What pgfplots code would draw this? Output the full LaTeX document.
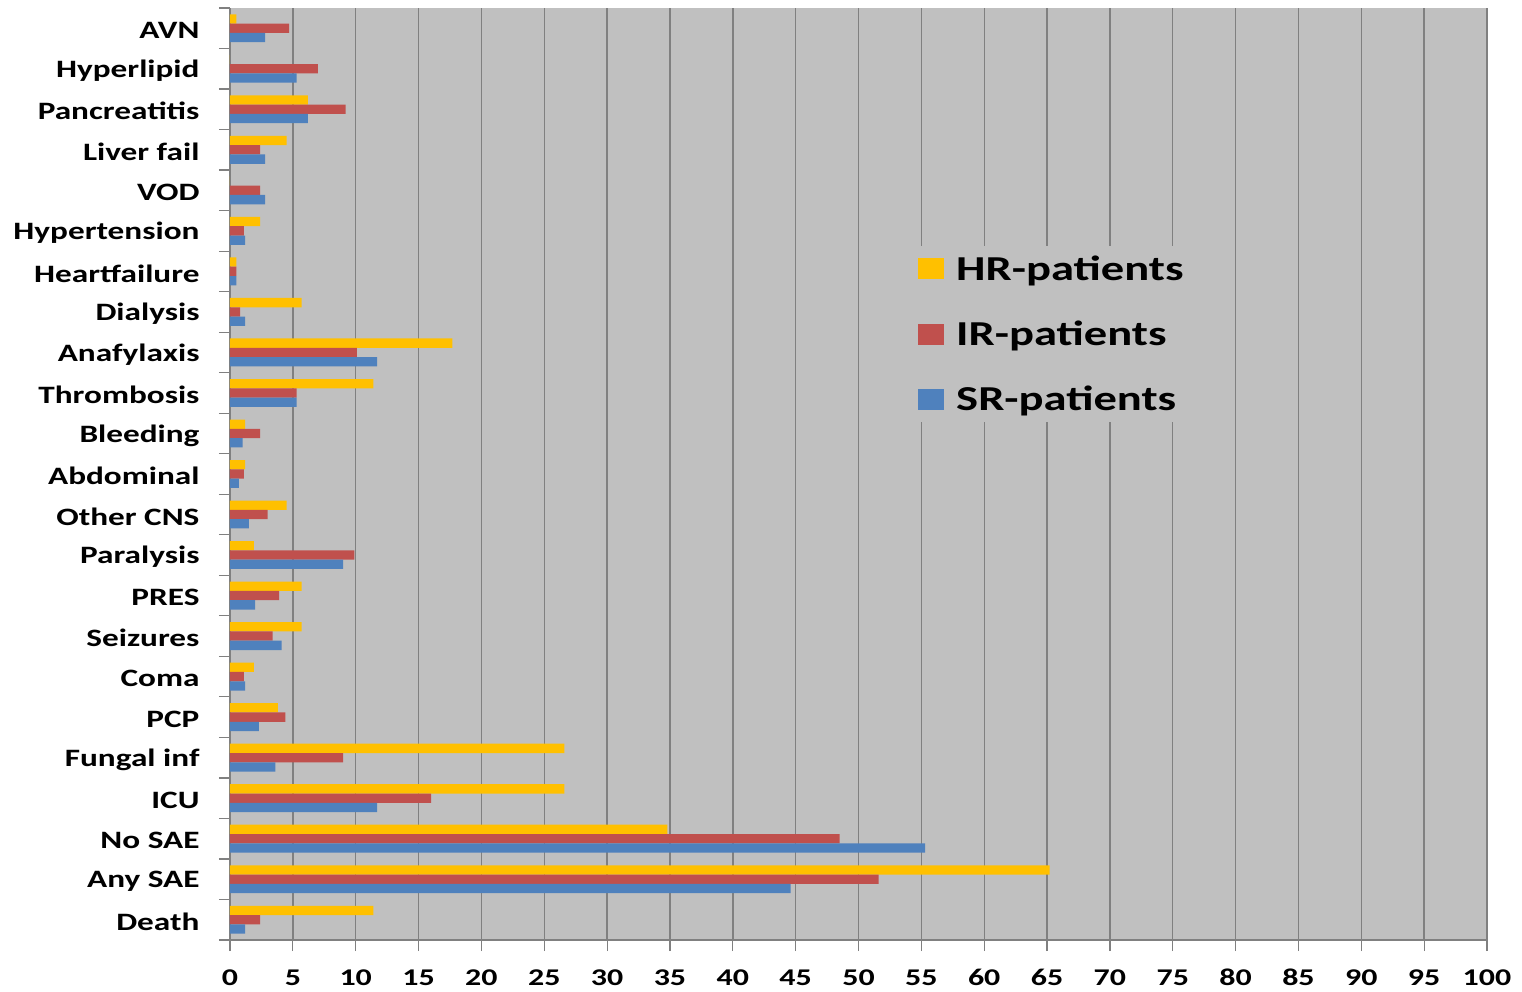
\documentclass[border=0pt]{standalone}
\usepackage{pgfplots}
\pgfplotsset{compat=1.18}
\usepackage{pgfplotstable}
\usepackage{fontspec}
\setmainfont{Carlito}[FakeStretch=1.33]

\definecolor{hrcol}{HTML}{FFC000}
\definecolor{ircol}{HTML}{C0504D}
\definecolor{srcol}{HTML}{4F81BD}
\definecolor{plotbg}{HTML}{C0C0C0}
\definecolor{gridcol}{HTML}{808080}

% Serious adverse events (%) per risk group; idx 0 = Death (bottom) ... 22 = AVN (top)
\pgfplotstableread{
idx HR   IR   SR
0   11.4 2.4  1.2
1   65.2 51.6 44.6
2   34.8 48.5 55.3
3   26.6 16.0 11.7
4   26.6 9.0  3.6
5   3.8  4.4  2.3
6   1.9  1.1  1.2
7   5.7  3.4  4.1
8   5.7  3.9  2.0
9   1.9  9.9  9.0
10  4.5  3.0  1.5
11  1.2  1.1  0.7
12  1.2  2.4  1.0
13  11.4 5.3  5.3
14  17.7 10.1 11.7
15  5.7  0.8  1.2
16  0.5  0.5  0.5
17  2.4  1.1  1.2
18  0    2.4  2.8
19  4.5  2.4  2.8
20  6.2  9.2  6.2
21  0    7.0  5.3
22  0.5  4.7  2.8
}\saetable

\begin{document}
\begin{tikzpicture}
\useasboundingbox (-230pt,-51pt) rectangle (1292pt,940pt);
\begin{axis}[
  at={(0pt,0pt)}, anchor=south west,
  scale only axis, width=1257pt, height=932pt,
  xmin=0, xmax=100, ymin=-0.5, ymax=22.5,
  xtick={0,5,...,100},
  ytick={-0.5,0.5,...,22.5}, yticklabels={},
  extra y ticks={0,...,22},
  extra y tick labels={Death,Any SAE,No SAE,ICU,Fungal inf,PCP,Coma,Seizures,PRES,Paralysis,Other CNS,Abdominal,Bleeding,Thrombosis,Anafylaxis,Dialysis,Heartfailure,Hypertension,VOD,Liver fail,Pancreatitis,Hyperlipid,AVN},
  extra y tick style={major tick length=0pt},
  axis x line*=bottom, axis y line*=left,
  axis line style={gridcol, line width=1.2pt},
  tick align=outside, major tick length=11pt,
  tick style={gridcol, line width=1.2pt},
  xmajorgrids, grid style={gridcol, line width=1.4pt},
  axis background/.style={fill=plotbg},
  xbar, bar width=9.3pt,
  xticklabel style={font=\fontsize{24}{24}\selectfont\bfseries, /pgf/number format/assume math mode=true,
    text height=16pt, text depth=0pt, yshift=-15pt},
  yticklabel style={font=\fontsize{25}{25}\selectfont\bfseries, xshift=-27pt, yshift=-2pt},
  legend style={at={(rel axis cs:0.541,0.745)}, anchor=north west, fill=plotbg, draw=none,
    font=\fontsize{35}{35}\selectfont\bfseries, row sep=35pt, inner sep=8pt,
    /tikz/every odd column/.append style={column sep=10pt}},
  legend cell align=left,
  legend image code/.code={\fill[#1] (0pt,-10.5pt) rectangle (26pt,10.5pt);},
]
\addplot[fill=hrcol, draw=none, bar shift=9.3pt] table[x=HR, y=idx]{\saetable};
\addplot[fill=ircol, draw=none, bar shift=0pt] table[x=IR, y=idx]{\saetable};
\addplot[fill=srcol, draw=none, bar shift=-9.3pt] table[x=SR, y=idx]{\saetable};
\legend{HR-patients, IR-patients, SR-patients}
\end{axis}
\end{tikzpicture}
\end{document}
